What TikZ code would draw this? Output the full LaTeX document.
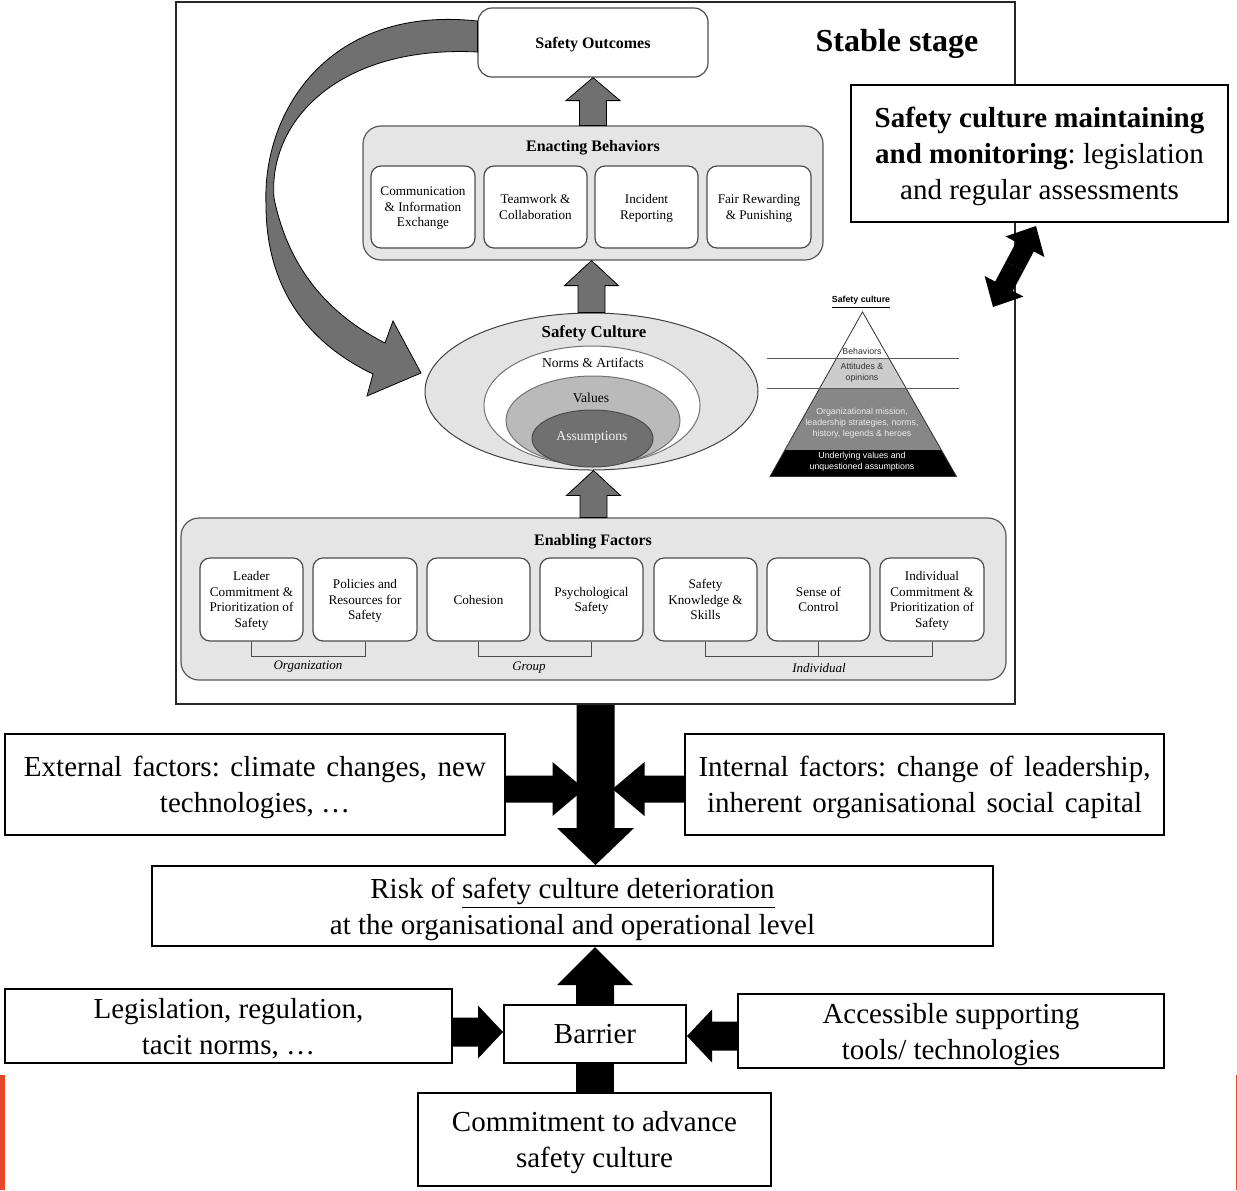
\documentclass[tikz,border=0pt]{standalone}
\usepackage{fontspec}
\setmainfont{Liberation Serif}
\setsansfont{Liberation Sans}
\usetikzlibrary{calc,shapes.geometric}
\frenchspacing

\definecolor{edgered}{HTML}{E8482A}

% Block arrow: style, start, end, shaft half width, head half width, head length
\newcommand\blockarrow[6]{%
  \coordinate (baS) at (#2);
  \coordinate (baT) at (#3);
  \coordinate (baH) at ($(baT)!#6!(baS)$);
  \path[#1] ($(baS)!#4!90:(baT)$) -- ($(baH)!#4!90:(baT)$) -- ($(baH)!#5!90:(baT)$)
    -- (baT) -- ($(baH)!#5!-90:(baT)$) -- ($(baH)!#4!-90:(baT)$)
    -- ($(baS)!#4!-90:(baT)$) -- cycle;}

% Box node spanning two corners: style, name, x1, y1, x2, y2, text
\newcommand\rnode[7]{%
  \node[#1, minimum width={(#5-#3)*0.5pt}, minimum height={(#6-#4)*0.5pt}]
    (#2) at ({(#3+#5)/2},{(#4+#6)/2}) {#7};}

\begin{document}
\begin{tikzpicture}[x=0.5pt,y=-0.5pt,
  frame/.style={draw=black!85, line width=1pt, inner sep=0pt},
  tbox/.style={draw=black, line width=1pt, fill=white, inner sep=0pt, align=center,
    text depth=0pt, font=\fontsize{14.5}{18}\selectfont},
  panel/.style={draw=black!65, fill=black!10, line width=0.6pt, rounded corners=9pt, inner sep=0pt},
  sbox/.style={draw=black!70, fill=white, line width=0.6pt, rounded corners=5pt, inner sep=0pt,
    align=center, text depth=0pt, font=\fontsize{6.6}{7.8}\selectfont},
  ptitle/.style={font=\bfseries\fontsize{8}{9.6}\selectfont, inner sep=0pt},
  ringtext/.style={font=\fontsize{6.8}{8}\selectfont, inner sep=0pt},
  grp/.style={font=\itshape\fontsize{6.5}{7.8}\selectfont, inner sep=0pt},
  bracket/.style={draw=black!70, line width=0.5pt},
  gblock/.style={fill=black!56, draw=black, line width=0.4pt},
  bblock/.style={fill=black},
  ring/.style={ellipse, inner sep=0pt, line width=0.5pt},
  pyr/.style={font=\sffamily\fontsize{4.4}{5.4}\selectfont, inner sep=0pt, align=center},
]
\useasboundingbox (0,0) rectangle (1237,1190);

% ---------------- stable stage frame ----------------
\rnode{frame}{stable}{176}{2}{1015}{704}{}
\node[font=\bfseries\fontsize{16}{19}\selectfont, inner sep=0pt] (stabletitle) at (897,44) {Stable stage};

% safety outcomes
\rnode{sbox, rounded corners=7pt, font=\bfseries\fontsize{8}{9.6}\selectfont}{outcomes}{478}{8}{708}{77}{Safety Outcomes}

% feedback arrow from outcomes back to the culture rings
\filldraw[gblock] ($(outcomes.west)+(0,-21.5)$)
  .. controls (330,5) and (262,110) .. (266,205)
  .. controls (266,292) and (312,345) .. (373,374)
  -- (367,396) -- (421,373) -- (393,321) -- (385,343)
  .. controls (336,318) and (290,276) .. (274,198)
  .. controls (268,120) and (340,45) .. ($(outcomes.west)+(0,9.5)$) -- cycle;

% enacting behaviors
\rnode{panel}{enact}{363}{126}{823}{260}{}
\node[ptitle] (enacttitle) at (593,148) {Enacting Behaviors};
\rnode{sbox}{b1}{371}{166}{475}{248}{Communication\\\& Information\\Exchange}
\rnode{sbox}{b2}{484}{166}{587}{248}{Teamwork \&\\Collaboration}
\rnode{sbox}{b3}{595}{166}{698}{248}{Incident\\Reporting}
\rnode{sbox}{b4}{707}{166}{811}{248}{Fair Rewarding\\\& Punishing}

% safety culture rings
\node[ring, draw=black!75, fill=black!11, minimum width=166.5pt, minimum height=78.5pt] (sc) at (591.5,391.5) {};
\node[ring, draw=black!55, fill=white, minimum width=108pt, minimum height=59.5pt] (norms) at (592,405.5) {};
\node[ring, draw=black!55, fill=black!27, minimum width=87pt, minimum height=44.5pt] (values) at (593,420.5) {};
\node[ring, draw=black!70, fill=black!56, minimum width=60.5pt, minimum height=28.5pt] (assump) at (592.5,438.5) {};
\node[ptitle, font=\bfseries\fontsize{8.4}{10}\selectfont] (sctitle) at (594,333) {Safety Culture};
\node[ringtext] (normstext) at (593,363) {Norms \& Artifacts};
\node[ringtext] (valuestext) at (591,398) {Values};
\node[ringtext, text=black!4] (assumptext) at (592,437) {Assumptions};

% enabling factors
\rnode{panel}{enable}{181}{518}{1006}{680}{}
\node[ptitle] (enabletitle) at (593,542) {Enabling Factors};
\rnode{sbox}{e1}{200}{558}{303}{641}{Leader\\Commitment \&\\Prioritization of\\Safety}
\rnode{sbox}{e2}{313}{558}{417}{641}{Policies and\\Resources for\\Safety}
\rnode{sbox}{e3}{427}{558}{530}{641}{Cohesion}
\rnode{sbox}{e4}{540}{558}{643}{641}{Psychological\\Safety}
\rnode{sbox}{e5}{654}{558}{757}{641}{Safety\\Knowledge \&\\Skills}
\rnode{sbox}{e6}{767}{558}{870}{641}{Sense of\\Control}
\rnode{sbox}{e7}{880}{558}{984}{641}{Individual\\Commitment \&\\Prioritization of\\Safety}
\draw[bracket] (e1.south) -- ++(0,15) -| (e2.south);
\draw[bracket] (e3.south) -- ++(0,15) -| (e4.south);
\draw[bracket] (e5.south) -- ++(0,15) -| (e7.south);
\draw[bracket] (e6.south) -- ++(0,15);
\node[grp] (lorg) at (308,667) {Organization};
\node[grp] (lgroup) at (529,668) {Group};
\node[grp] (lind) at (819,668) {Individual};

% upward flow arrows
\blockarrow{gblock}{enable.north}{enable.north |- sc.south}{6.75pt}{13.5pt}{12.5pt}
\blockarrow{gblock}{sc.north}{sc.north |- enact.south}{6.75pt}{13.5pt}{12.5pt}
\blockarrow{gblock}{enact.north}{outcomes.south}{6.75pt}{13.5pt}{11.5pt}

% culture pyramid
\begin{scope}
  \clip (862.5,312) -- (770,476.5) -- (956.5,476.5) -- cycle;
  \fill[white] (760,300) rectangle (966,358);
  \fill[black!20] (760,358) rectangle (966,388);
  \fill[black!47] (760,388) rectangle (966,450);
  \fill[black] (760,450) rectangle (966,480);
\end{scope}
\draw[black!80, line width=0.4pt] (862.5,312) -- (770,476.5) -- (956.5,476.5) -- cycle;
\draw[black!65, line width=0.4pt] (767,358) -- (959,358) (767,388) -- (959,388);
\node[pyr, font=\sffamily\bfseries\fontsize{4.4}{5.4}\selectfont] (pyrtitle) at (861,302) {\underline{Safety culture}};
\node[pyr, text=black!80] (pbeh) at (862,351) {Behaviors};
\node[pyr, text=black!80] (patt) at (862,373) {Attitudes \&\\opinions};
\node[pyr, text=black!8] (porg) at (862,423) {Organizational mission,\\leadership strategies, norms,\\history, legends \& heroes};
\node[pyr, text=white] (pund) at (862,462) {Underlying values and\\unquestioned assumptions};

% maintaining and monitoring
\rnode{tbox}{mon}{851}{85}{1228}{222}
  {\textbf{Safety culture maintaining}\\\textbf{and monitoring}: legislation\\and regular assessments}
\coordinate (dblA) at (993,307);
\coordinate (dblB) at ($(mon.south)+(-3.5,3)$);
\coordinate (dblM) at ($(dblA)!0.5!(dblB)$);
\blockarrow{bblock}{dblM}{dblB}{5pt}{11pt}{11.75pt}
\blockarrow{bblock}{dblM}{dblA}{5pt}{11pt}{11.75pt}

% ---------------- deterioration pathway ----------------
\rnode{tbox}{ext}{5}{734}{505}{835}
  {\makebox[231pt][s]{External factors: climate changes, new}\\technologies, …}
\rnode{tbox}{int}{685}{734}{1164}{835}
  {\makebox[226pt][s]{Internal factors: change of leadership,}\\\makebox[217.5pt][s]{inherent organisational social capital}}
\rnode{tbox}{risk}{152}{866}{993}{946}
  {Risk of \underline{safety culture deterioration}\\at the organisational and operational level}

\blockarrow{bblock}{stable.south}{risk.north -| stable.south}{9.5pt}{19.25pt}{18.5pt}
\blockarrow{bblock}{$(ext.east)+(0,4.5)$}{$(stable.south |- ext.east)+(-11,4.5)$}{6.75pt}{13.5pt}{16pt}
\blockarrow{bblock}{$(int.west)+(0,4.5)$}{$(stable.south |- int.west)+(17,4.5)$}{6.75pt}{13.5pt}{16pt}

% ---------------- barrier ----------------
\rnode{tbox}{barrier}{504}{1005}{686}{1063}{Barrier}
\rnode{tbox}{leg}{5}{989}{452}{1063}{Legislation, regulation,\\tacit norms, …}
\rnode{tbox}{acc}{738}{994}{1164}{1068}{Accessible supporting\\tools/ technologies}
\rnode{tbox}{commit}{418}{1093}{771}{1186}{Commitment to advance\\safety culture}

\blockarrow{bblock}{barrier.north}{barrier.north |- risk.south}{9.5pt}{19pt}{19pt}
\blockarrow{bblock}{$(leg.east)+(0,6)$}{$(barrier.west)+(0,-2)$}{7.25pt}{13.25pt}{12.5pt}
\blockarrow{bblock}{$(acc.west)+(0,5)$}{$(barrier.east)+(0,2)$}{7.25pt}{13.25pt}{12.5pt}
\fill[bblock] ($(commit.north)+(-19,0)$) rectangle ($(barrier.south)+(19,0)$);

% page edge marks
\fill[edgered] (0,1075) rectangle (5,1190);
\fill[edgered] (1235.6,1075) rectangle (1237,1190);
\end{tikzpicture}
\end{document}
